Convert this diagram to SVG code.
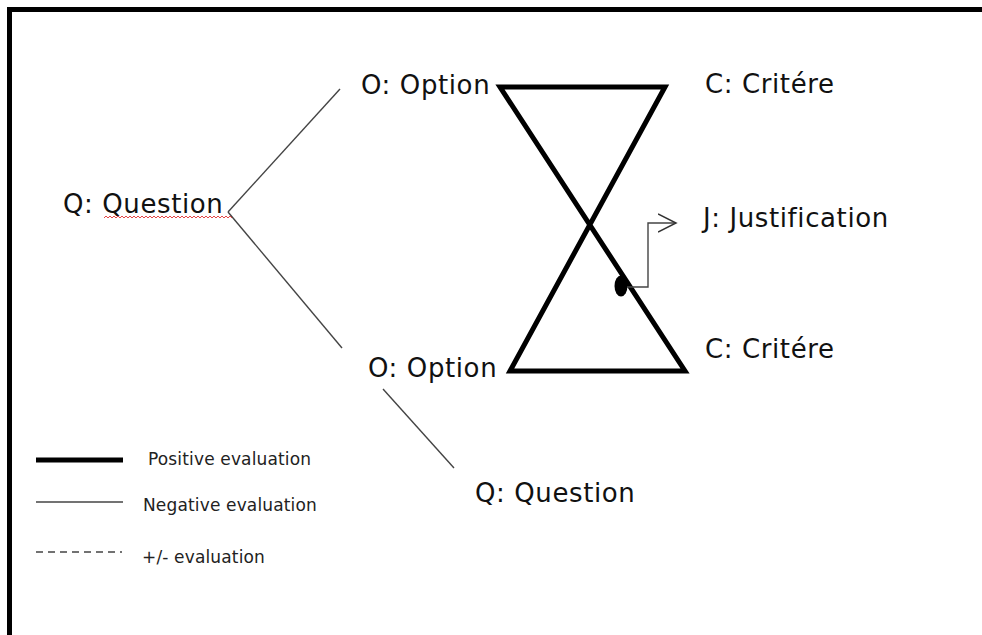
<svg xmlns="http://www.w3.org/2000/svg" width="982" height="635" viewBox="0 0 982 635">
<defs>
<style>
.lbl{font-family:"DejaVu Sans","Verdana",sans-serif;font-size:26px;letter-spacing:0.6px;fill:#111}
.leg{font-family:"DejaVu Sans","Verdana",sans-serif;font-size:17px;letter-spacing:0.15px;fill:#222}
.pos{stroke:#000;stroke-width:5;fill:none;stroke-linejoin:miter;stroke-linecap:round}
.neg{stroke:#444;stroke-width:1.4;fill:none}
.mix{stroke:#444;stroke-width:1.4;fill:none;stroke-dasharray:7 5}
</style>
<marker id="open" viewBox="0 0 20 20" refX="18" refY="10" markerWidth="20" markerHeight="20" markerUnits="userSpaceOnUse" orient="auto">
<path d="M0 1 L18 10 L0 19" fill="none" stroke="#333" stroke-width="1.5"/>
</marker>
</defs>
<rect width="982" height="635" fill="#fff"/>
<path d="M9.5 640 V9.5 H990" fill="none" stroke="#000" stroke-width="5"/>

<g id="connectors">
<line class="neg" x1="228" y1="212" x2="340" y2="89"/>
<line class="neg" x1="228" y1="212" x2="342" y2="348"/>
<line class="neg" x1="383" y1="389" x2="454" y2="468"/>
<polygon class="pos" points="500,87 665,87 510,371 685,371"/>
<ellipse cx="621" cy="286" rx="6.5" ry="10.5" fill="#000"/>
<path class="neg" d="M627 287 H648 V223 H676" stroke="#333" stroke-width="1.5" marker-end="url(#open)"/>
</g>

<g id="q1"><text class="lbl" x="63" y="213">Q: Question</text>
<path d="M104 218 l2 -2 l2 2 l2 -2 l2 2 l2 -2 l2 2 l2 -2 l2 2 l2 -2 l2 2 l2 -2 l2 2 l2 -2 l2 2 l2 -2 l2 2 l2 -2 l2 2 l2 -2 l2 2 l2 -2 l2 2 l2 -2 l2 2 l2 -2 l2 2 l2 -2 l2 2 l2 -2 l2 2 l2 -2 l2 2 l2 -2 l2 2 l2 -2 l2 2 l2 -2 l2 2 l2 -2 l2 2 l2 -2 l2 2 l2 -2 l2 2 l2 -2 l2 2 l2 -2 l2 2 l2 -2 l2 2 l2 -2 l2 2 l2 -2 l2 2 l2 -2 l2 2 l2 -2 l2 2 l2 -2 l2 2 l2 -2 l2 2 l2 -2 l2 2" fill="none" stroke="#e03030" stroke-width="0.9"/></g>
<g id="o1"><text class="lbl" x="361" y="94">O: Option</text></g>
<g id="o2"><text class="lbl" x="368" y="377">O: Option</text></g>
<g id="c1"><text class="lbl" x="705" y="93">C: Critére</text></g>
<g id="c2"><text class="lbl" x="705" y="358">C: Critére</text></g>
<g id="j1"><text class="lbl" x="703" y="227">J: Justification</text></g>
<g id="q2"><text class="lbl" x="475" y="502">Q: Question</text></g>

<g id="legend">
<line x1="36" y1="460" x2="123" y2="460" stroke="#000" stroke-width="5"/>
<text class="leg" x="148" y="465">Positive evaluation</text>
<line class="neg" x1="36" y1="502" x2="123" y2="502"/>
<text class="leg" x="143" y="511">Negative evaluation</text>
<line class="mix" x1="36" y1="552" x2="122" y2="552"/>
<text class="leg" x="142" y="563">+/- evaluation</text>
</g>
</svg>
